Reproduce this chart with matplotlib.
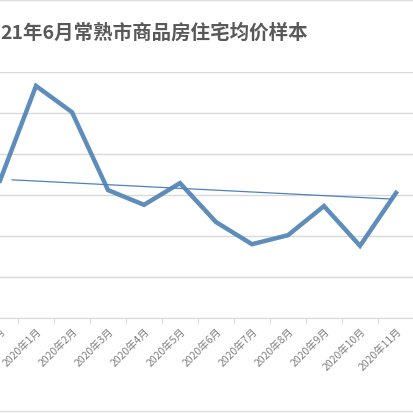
import matplotlib
matplotlib.use("Agg")
import matplotlib.pyplot as plt

plt.rcParams['font.family'] = ['Noto Sans CJK SC', 'DejaVu Sans']

months = ["2019年12月", "2020年1月", "2020年2月", "2020年3月", "2020年4月", "2020年5月",
          "2020年6月", "2020年7月", "2020年8月", "2020年9月", "2020年10月", "2020年11月"]
values = [3.35, 5.66, 5.02, 3.12, 2.76, 3.29, 2.34, 1.80, 2.02, 2.73, 1.76, 3.05]
trend_x = [0.337, 10.9]
trend_y = [3.37, 2.90]
title = "21年6月常熟市商品房住宅均价样本"

fig = plt.figure(figsize=(4.14, 4.14), dpi=100)
ax = fig.add_axes([0, 1 - 319/414, 1, (319 - 73)/414])
x = list(range(len(months)))
ax.plot(x, values, color="#5F8DBB", lw=3.2, solid_joinstyle="miter")
ax.plot(trend_x, trend_y, color="#4F81BD", lw=0.9)
ax.set_xlim(0.337, 10.9)
ax.set_ylim(0, 6)
ax.set_yticks(range(0, 7))
ax.yaxis.grid(True, color="#D9D9D9", lw=1)
ax.tick_params(axis="y", length=0, labelleft=False)
for s in ["top", "left", "right"]:
    ax.spines[s].set_visible(False)
ax.spines["bottom"].set_color("#D9D9D9")
ax.set_xticks([i + 0.5 for i in range(len(months))], minor=True)
ax.set_xticks(x)
ax.set_xticklabels(months, rotation=45, ha="right", rotation_mode="anchor",
                   fontsize=7.5, color="#808080")
ax.tick_params(axis="x", which="major", length=0, pad=5)
ax.tick_params(axis="x", which="minor", length=4, color="#D9D9D9")
ax.set_axisbelow(True)

fig.text(0.0, 1 - 33/414, title, fontsize=14, fontweight="bold",
         color="#595959", ha="left", va="center")
fig.add_artist(plt.Line2D([0, 1], [0.998, 0.998], color="#DDDDDD", lw=1))
fig.add_artist(plt.Line2D([0, 1], [1 - 412/414, 1 - 412/414], color="#DDDDDD", lw=1))
fig.savefig("out.png", dpi=100, facecolor="white")
